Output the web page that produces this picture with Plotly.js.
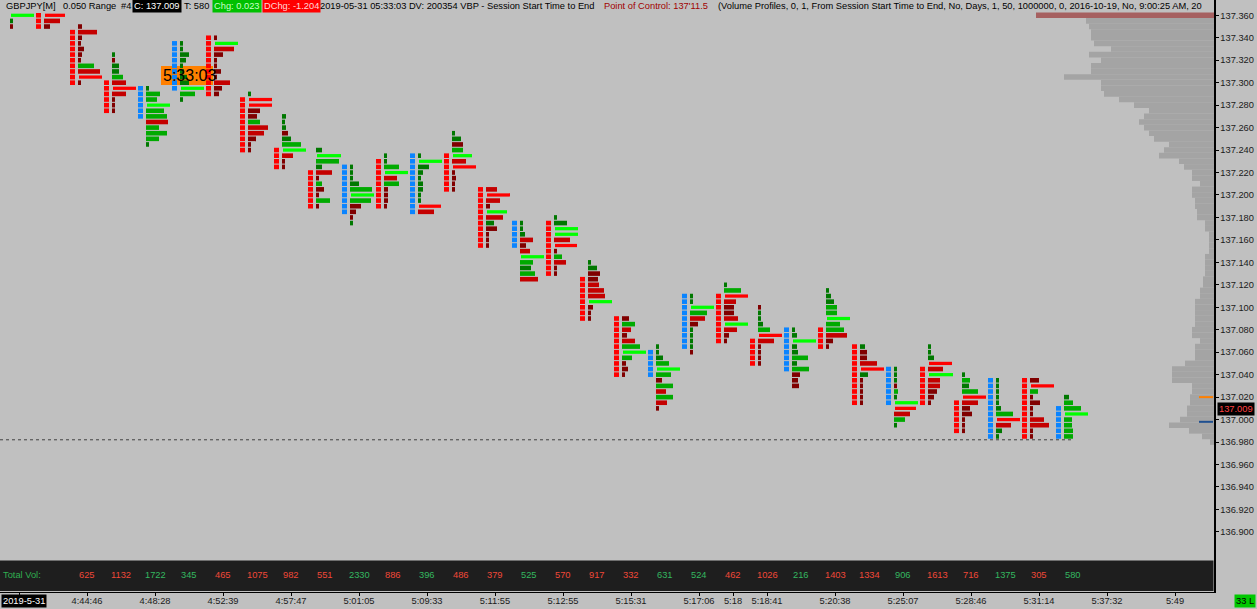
<!DOCTYPE html>
<html><head><meta charset="utf-8">
<script src="https://cdn.plot.ly/plotly-3.0.1.min.js"></script>
<style>html,body{margin:0;padding:0;background:#c0c0c0;overflow:hidden}</style>
</head><body><div id="chart" style="width:1257px;height:609px"></div>
<script>
// ---------------- DATA ----------------
const colIdx = [-2,-1,0,1,2,3,4,5,6,7,8,9,10,11,12,13,14,15,16,17,18,19,20,21,22,23,24,25,26,27,28,29];
const barDir = ['U','D','D','D','U','U','D','D','D','D','U','D','U','D','D','U','D','D','D','U','U','D','D','U','D','D','U','D','D','U','D','U'];
const ladderHigh = [null,137.360,137.345,137.300,137.295,137.335,137.340,137.285,137.240,137.220,137.225,137.230,137.235,137.235,137.205,137.175,137.175,137.125,137.090,137.060,137.110,137.110,137.070,137.080,137.080,137.065,137.045,137.045,137.015,137.035,137.035,137.010];
const ladderLow  = [null,137.350,137.300,137.275,137.270,137.295,137.290,137.240,137.225,137.190,137.185,137.190,137.185,137.205,137.155,137.155,137.130,137.090,137.040,137.040,137.065,137.070,137.050,137.045,137.065,137.015,137.015,137.015,136.990,136.985,136.985,136.985];
const profileTop = [137.360,137.360,137.350,137.325,137.295,137.335,137.340,137.290,137.270,137.240,137.225,137.235,137.235,137.255,137.205,137.175,137.180,137.140,137.090,137.065,137.110,137.120,137.100,137.080,137.115,137.065,137.045,137.065,137.040,137.035,137.035,137.020];
const levelVol = [
  [23,3,3],
  [20,16,6],
  [4,19,4,3,6,4,3,16,22,23,3],
  [3,3,7,7,11,14,23,14,3,3,3],
  [3,14,11,23,18,21,22,13,21,13,3],
  [3,3,9,6,3,4,7,9,23,15,3],
  [3,23,20,9,3,3,7,3,16,8,5],
  [3,23,23,12,9,12,20,16,8,3,3],
  [4,3,4,6,9,19,23,11,3,3],
  [6,24,23,6,16,3,6,8,3,14,3],
  [3,3,3,9,22,23,21,11,6,3,3],
  [3,3,15,23,13,15,4,4,4,3],
  [3,23,11,5,3,5,5,3,3,22,16],
  [3,9,11,11,19,14,23,3,4,3,3],
  [11,23,14,4,20,17,8,11,3,3,3],
  [3,3,5,13,6,10,23,13,11,15,18],
  [3,13,23,23,16,22,3,8,12,3,3],
  [3,9,12,10,11,16,17,23,5,3,3],
  [7,13,9,5,13,18,23,10,4,6,3],
  [3,3,7,13,23,15,6,17,10,17,11,3],
  [3,3,23,17,15,8,3,3,3,3,3],
  [3,17,23,12,10,10,14,23,13,5,3],
  [3,3,3,5,12,23,16,3,3,3,3],
  [3,5,23,5,6,16,5,17,8,6,7],
  [3,5,8,11,11,23,14,18,21,7,3],
  [5,7,7,17,23,8,3,3,3,3,3],
  [3,3,3,3,4,3,23,21,16,11,3],
  [3,3,6,23,15,24,12,12,9,6,3],
  [3,8,7,16,23,16,8,10,3,3,3],
  [3,3,3,3,3,5,17,23,15,6,3],
  [9,23,8,3,10,3,3,14,19,3,3],
  [5,9,17,23,8,8,9,9]
];
const levelTone = [
  ['bg','dg','dr'],
  ['br','mr','dr'],
  ['dr','mr','dr','dr','dr','dr','dr','mg','mr','br','dr'],
  ['dg','dr','dg','dg','mg','mr','br','mr','dr','dr','dr'],
  ['dg','mg','mg','bg','mg','mg','mr','mg','mg','mg','dg'],
  ['dg','dg','dg','dg','dg','dg','dg','dg','bg','mg','dg'],
  ['dr','bg','mr','dr','dr','dr','dr','dr','mr','dr','dr'],
  ['dg','br','br','dr','dr','mg','mr','mr','dr','dr','dr'],
  ['dg','dg','dg','dr','dg','mg','bg','mr','dr','dr'],
  ['dg','bg','mg','dg','mr','dr','mg','dr','dr','mg','dr'],
  ['dg','dg','dg','dg','mg','bg','mg','dr','dr','dr','dg'],
  ['dg','dg','mg','bg','mr','mg','dr','dr','dr','dr'],
  ['dg','bg','dg','dg','dg','dg','dg','dg','dg','br','mr'],
  ['dg','dg','dr','mg','bg','mr','br','dr','dr','dr','dr'],
  ['mr','br','mr','dr','bg','mr','dg','dr','dr','dr','dr'],
  ['dg','dg','dg','mr','dr','mr','bg','mg','dg','mg','mr'],
  ['dg','dg','bg','bg','mr','br','dr','mg','mr','dr','dr'],
  ['dg','dg','dr','dr','mr','mr','mr','bg','dr','dr','dr'],
  ['dr','mg','mr','dr','mr','mg','bg','mg','dr','dr','dr'],
  ['dg','dg','dg','mg','bg','mg','dr','mg','mr','mg','mr','dr'],
  ['dg','dg','bg','mg','mr','dr','dg','dg','dg','dg','dr'],
  ['dg','mg','br','mr','dr','dr','mr','bg','mr','dr','dr'],
  ['dr','dg','dg','dg','mg','br','mr','dr','dr','dr','dr'],
  ['dg','dg','bg','dg','dg','mg','dg','mg','dr','dr','dr'],
  ['dg','dg','dg','mg','mg','bg','mg','mg','mr','dr','dr'],
  ['dg','dr','dr','mr','br','dg','dr','dr','dr','dr','dr'],
  ['dg','dg','dg','dr','mg','dg','bg','br','mr','mg','dg'],
  ['dg','dg','dg','br','mr','bg','mr','mr','dr','dr','dr'],
  ['dg','mg','dg','mg','br','mr','dr','dr','dr','dr','dr'],
  ['dg','dg','dg','dg','dg','dg','mg','br','mr','dg','dg'],
  ['dr','br','mg','dr','dr','dr','dr','mr','mr','dr','dr'],
  ['dg','mg','mg','bg','mg','mg','mg','mg']
];
const totalVol = [null,null,625,1132,1722,345,465,1075,982,551,2330,886,396,486,379,525,570,917,332,631,524,462,1026,216,1403,1334,906,1613,716,1375,305,580];
const timeTickIdx = [-2,0,2,4,6,8,10,12,14,16,18,19,20,22,24,26,28,30,32];
const timeTickText = ['','4:44:46','4:48:28','4:52:39','4:57:47','5:01:05','5:09:33','5:11:55','5:12:55','5:15:31','5:17:06','5:18','5:18:41','5:20:38','5:25:07','5:28:46','5:31:14','5:37:32','5:49'];
const sessionDate = '2019-5-31';
const priceTicks = [136.900,136.920,136.940,136.960,136.980,137.000,137.020,137.040,137.060,137.080,137.100,137.120,137.140,137.160,137.180,137.200,137.220,137.240,137.260,137.280,137.300,137.320,137.340,137.360];
const vbpTop = 137.360;
const vbpVol = [178,128,125,123,123,120,103,125,113,123,123,150,113,113,110,95,80,65,70,75,70,65,60,45,50,55,35,30,22,22,14,22,22,19,19,17,17,9,9,5,5,5,5,9,9,9,9,11,11,14,14,19,19,19,19,19,22,22,14,19,19,19,29,42,42,42,22,22,24,24,27,27,34,45,25,12,4];
const lastPrice = 137.009;
const sessionLow = 136.982;
const refHigh = 137.020, refLow = 136.998;
const tickSize = 0.005;
const countdown = '5:33:03';
const headerParts = [
  ['GBPJPY[M]',4,'#000',null],
  ['0.050 Range',61,'#000',null],
  ['#4',119,'#000',null],
  ['C: 137.009',132,'#ffffff','#000000'],
  ['T: 580',182,'#000',null],
  ['Chg: 0.023',212,'#c8ffc8','#00c000'],
  ['DChg: -1.204',262,'#ffd8d8','#ff0000'],
  ['2019-05-31 05:33:03 DV: 200354 VBP - Session Start Time to End',318,'#000',null],
  ["Point of Control: 137'11.5",602,'#a00000',null],
  ['(Volume Profiles, 0, 1, From Session Start Time to End, No, Days, 1, 50, 1000000, 0, 2016-10-19, No, 9:00:25 AM, 20',716,'#000',null]
];

// ---------------- GEOMETRY / STYLE ----------------
const W=1257, H=609, PR=43, PB=17;
const plotW = W - PR, plotH = H - PB;
const PX = 34;               // px per column
const PPU = 1123;            // px per price unit
const xMin = -87/PX, xMax = xMin + plotW/PX;
const yMax = 137.360 + 15.3/PPU, yMin = yMax - plotH/PPU;
const toneColor = {dr:'#800000', mr:'#c40000', br:'#ff0000', dg:'#007800', mg:'#00aa00', bg:'#00ff00'};
const FONT = 'Liberation Sans, Arial, sans-serif';
const FS = 9.3;
const px2paperX = p => p/plotW;
const px2paperY = p => 1 - p/plotH;

const traces = [];

// VBP (right side)
{
  const ys=[], xs=[], cols=[];
  const vmax = Math.max(...vbpVol);
  vbpVol.forEach((v,i)=>{ ys.push(vbpTop - i*tickSize); xs.push(-v/PX); cols.push(v===vmax?'#a66060':'#a4a4a4'); });
  traces.push({type:'bar', orientation:'h', y:ys, x:xs, base:xMax, width:tickSize*0.999, marker:{color:cols, line:{width:0}}, hoverinfo:'skip'});
}

// Ladders
['U','D'].forEach(d=>{
  const ys=[], xs=[], bs=[];
  colIdx.forEach((c,i)=>{
    if (barDir[i]!==d || ladderHigh[i]==null) return;
    const n = Math.round((ladderHigh[i]-ladderLow[i])/tickSize);
    for (let j=0;j<=n;j++){ ys.push(ladderHigh[i]-j*tickSize); xs.push(5/PX); bs.push(c-0.5); }
  });
  traces.push({type:'bar', orientation:'h', y:ys, x:xs, base:bs, width:0.0041, marker:{color: d==='U'?'#0a84ff':'#ff0000', line:{width:0}}, hoverinfo:'skip'});
});

// Profile bars per tone
Object.keys(toneColor).forEach(t=>{
  const ys=[], xs=[], bs=[];
  const bright = (t==='br'||t==='bg');
  colIdx.forEach((c,i)=>{
    levelVol[i].forEach((v,j)=>{
      if (levelTone[i][j]!==t) return;
      ys.push(profileTop[i]-j*tickSize);
      xs.push(v/PX);
      bs.push(c - (bright?8:9)/PX);
    });
  });
  traces.push({type:'bar', orientation:'h', y:ys, x:xs, base:bs, width: bright?0.0029:0.0041, marker:{color:toneColor[t], line:{width:0}}, hoverinfo:'skip'});
});

// ---------------- ANNOTATIONS ----------------
const anns = [];
headerParts.forEach(([txt,x,col,bg])=>{
  const a = {text:txt, xref:'paper', yref:'paper', x:px2paperX(x), y:px2paperY(6.5), xanchor:'left', yanchor:'middle', showarrow:false, font:{family:FONT, size:FS, color:col}};
  if (bg){ a.bgcolor = bg; a.borderpad = 1; }
  anns.push(a);
});
// volumes
anns.push({text:'Total Vol:', xref:'paper', yref:'paper', x:px2paperX(1), y:px2paperY(575), xanchor:'left', yanchor:'middle', showarrow:false, font:{family:FONT,size:FS,color:'#30b050'}});
colIdx.forEach((c,i)=>{
  if (totalVol[i]==null) return;
  anns.push({text:String(totalVol[i]), xref:'x', yref:'paper', x:c, y:px2paperY(575), xanchor:'center', yanchor:'middle', showarrow:false, font:{family:FONT,size:FS,color: barDir[i]==='U'?'#34b860':'#f04838'}});
});
// date label
anns.push({text:sessionDate, xref:'paper', yref:'paper', x:px2paperX(1), y:px2paperY(600.5), xanchor:'left', yanchor:'middle', showarrow:false, bgcolor:'#000', borderpad:1, font:{family:FONT,size:FS,color:'#fff'}});
// last price label
anns.push({text:lastPrice.toFixed(3), xref:'paper', yref:'y', x:px2paperX(1217), y:lastPrice, xanchor:'left', yanchor:'middle', showarrow:false, bgcolor:'#000', borderpad:1, font:{family:FONT,size:FS,color:'#ff4040'}});
// 33 L
anns.push({text:'33 L', xref:'paper', yref:'paper', x:px2paperX(1256), y:px2paperY(601), xanchor:'right', yanchor:'middle', showarrow:false, bgcolor:'#00c800', borderpad:1, font:{family:FONT,size:FS,color:'#000'}});
// countdown
anns.push({text:countdown, xref:'paper', yref:'paper', x:px2paperX(161), y:px2paperY(75.5), xanchor:'left', yanchor:'middle', showarrow:false, font:{family:FONT, size:16, color:'#000'}});

// ---------------- SHAPES ----------------
const shapes = [
  {type:'rect', xref:'paper', yref:'paper', x0:px2paperX(161), x1:px2paperX(213), y0:px2paperY(66), y1:px2paperY(85), fillcolor:'#ff8000', line:{width:0}, layer:'below'},
  {type:'rect', xref:'paper', yref:'paper', x0:0, x1:px2paperX(1213.5), y0:px2paperY(591), y1:px2paperY(560.5), fillcolor:'#1e1e1e', line:{width:0}, layer:'above'},
  {type:'line', xref:'x', yref:'y', x0:xMin, x1:29, y0:sessionLow, y1:sessionLow, line:{color:'#404040', width:1, dash:'3px,3px'}},
  {type:'line', xref:'paper', yref:'y', x0:px2paperX(1199), x1:px2paperX(1213), y0:refHigh, y1:refHigh, line:{color:'#ff8000', width:2}},
  {type:'line', xref:'paper', yref:'y', x0:px2paperX(1199), x1:px2paperX(1213), y0:refLow, y1:refLow, line:{color:'#1f4f8f', width:2}}
];

const layout = {
  width:W, height:H, margin:{l:0,r:PR,t:0,b:PB,pad:0},
  paper_bgcolor:'#c0c0c0', plot_bgcolor:'#c0c0c0',
  showlegend:false, barmode:'overlay', hovermode:false,
  font:{family:FONT, size:FS, color:'#1a1a1a'},
  xaxis:{range:[xMin,xMax], showgrid:false, zeroline:false, showline:true, linecolor:'#000', linewidth:1, mirror:false,
    tickmode:'array', tickvals:timeTickIdx, ticktext:timeTickText, ticks:'outside', ticklen:3, tickcolor:'#000', tickwidth:1,
    ticklabelstandoff:-3,
    tickfont:{family:FONT,size:FS,color:'#1a1a1a'}, fixedrange:true},
  yaxis:{range:[yMin,yMax], side:'right', showgrid:false, zeroline:false, showline:true, linecolor:'#000', linewidth:1.5,
    tickmode:'array', tickvals:priceTicks, ticktext:priceTicks.map(v=>v.toFixed(3)), ticks:'outside', ticklen:3, tickcolor:'#000',
    tickfont:{family:FONT,size:FS,color:'#1a1a1a'}, fixedrange:true},
  annotations:anns, shapes:shapes
};
Plotly.newPlot('chart', traces, layout, {staticPlot:true, displayModeBar:false});
</script></body></html>
